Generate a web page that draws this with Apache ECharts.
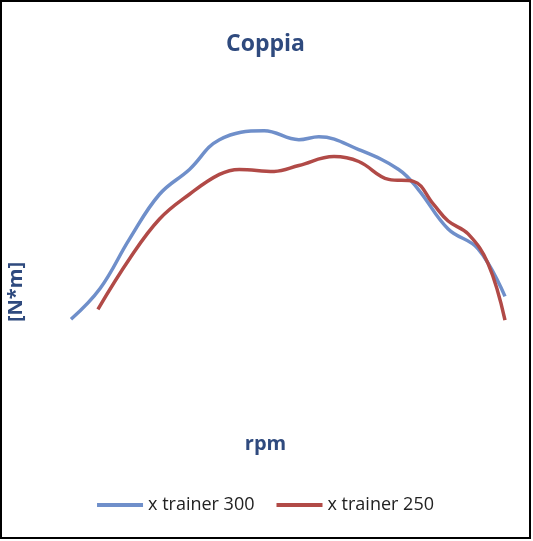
<!DOCTYPE html>
<html>
<head>
<meta charset="UTF-8">
<script src="https://cdn.jsdelivr.net/npm/echarts@6/dist/echarts.min.js"></script>
<style>
  html, body { margin: 0; padding: 0; width: 100%; height: 100%; overflow: hidden; background: #fff; }
  #chart { position: absolute; left: 0; top: 0; width: 531px; height: 539px; border: 2px solid #000; box-sizing: border-box; }
</style>
</head>
<body>
<div id="chart"></div>
<script>
  var rpm300 = [0, 6.7, 13.5, 20.4, 27.3, 34.2, 44.5, 52.5, 57.1, 66.3, 75.5, 80, 86.9, 93.8, 100];
  var torque300 = [11.6, 24, 44, 62, 72, 84, 87.6, 84, 85.2, 80, 72, 64, 48, 40, 20.8];
  var rpm250 = [6.2, 13.5, 20.4, 27.3, 34.2, 38.8, 46.8, 52.5, 60.6, 66.3, 73.2, 78.9, 83.5, 86.9, 91.5, 96.1, 100];
  var torque250 = [15.6, 36, 52, 62, 70, 72, 71.2, 73.6, 77.2, 75.2, 68, 67.2, 58, 51.2, 46, 34, 11.2];

  function pairs(xs, ys) {
    return xs.map(function (x, i) { return [x, ys[i]]; });
  }

  var chart = echarts.init(document.getElementById('chart'));
  chart.setOption({
    animation: false,
    title: {
      text: 'Coppia', left: 'center', top: 26,
      textStyle: { color: '#2f4a7e', fontSize: 23, fontWeight: 'bold', fontFamily: 'Open Sans' }
    },
    graphic: [
      { type: 'text', left: 'center', top: 432, style: { text: 'rpm', fill: '#2f4a7e', font: 'bold 20px "Open Sans"' } },
      { type: 'text', x: 14, y: 290, rotation: Math.PI / 2,
        style: { text: '[N*m]', fill: '#2f4a7e', font: 'bold 20px "Open Sans"', align: 'center', verticalAlign: 'middle' } }
    ],
    legend: {
      bottom: 18, left: 'center', itemWidth: 46, itemHeight: 4, itemGap: 22,
      icon: 'rect',
      textStyle: { fontSize: 18, color: '#222', fontFamily: 'Open Sans' },
      data: ['x trainer 300', 'x trainer 250']
    },
    grid: { left: 69, right: 24, top: 98, bottom: 189 },
    xAxis: { type: 'value', min: 0, max: 100, show: false },
    yAxis: { type: 'value', min: 0, max: 100, show: false },
    series: [
      { name: 'x trainer 300', type: 'line', smooth: 0.4, symbol: 'none',
        lineStyle: { width: 3.5, color: '#6f8fca' }, itemStyle: { color: '#6f8fca' },
        data: pairs(rpm300, torque300) },
      { name: 'x trainer 250', type: 'line', smooth: 0.4, symbol: 'none',
        lineStyle: { width: 3.5, color: '#b14a47' }, itemStyle: { color: '#b14a47' },
        data: pairs(rpm250, torque250) }
    ]
  });
</script>
</body>
</html>
